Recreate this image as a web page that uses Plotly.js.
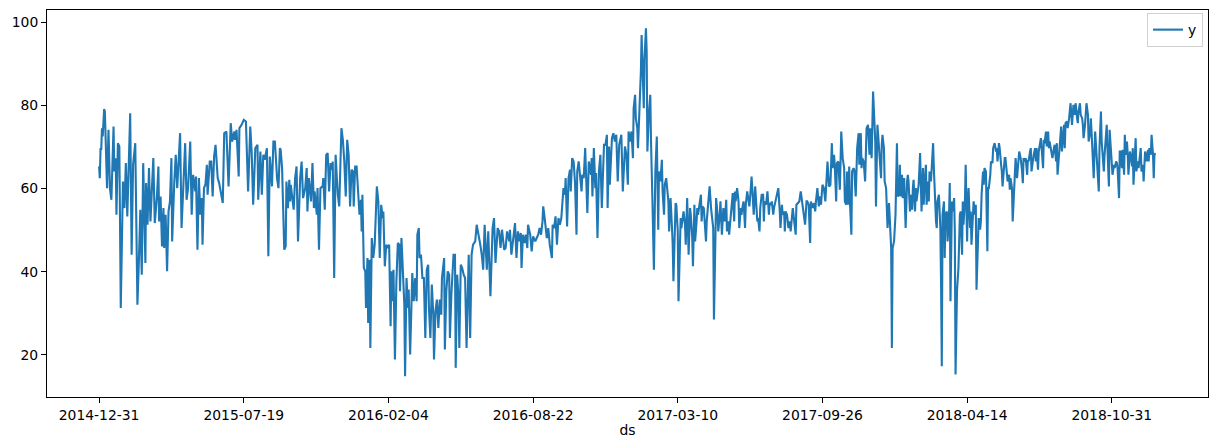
<!DOCTYPE html>
<html>
<head>
<meta charset="utf-8">
<script src="https://cdn.plot.ly/plotly-3.0.1.min.js"></script>
<style>html,body{margin:0;padding:0;background:#fff;}#chart{width:1218px;height:448px;}</style>
</head>
<body>
<div id="chart"></div>
<script>
// Series start (index 0) and day offsets from it
const startDate = '2014-12-31';
const segDays1 = [0,1,2,3,4,5,7,8,11,13,15,17,20,21,23,24,26,28,30,33,35,37,39,41,43,45,47,50,53,55,57,59,61,64,65,67,69,71,73,75,77,80,82,83,85,87,89,90,92,94,96,98,100,101,104,106,108,110,112,114,117,119,121,123,126,128,130,133,134,136,138,140,142,143,145,147,149,150,153,155,157,159,161,164,166,169,171,173,176,179,181,182,184,187,188,190,193,194,197,200,203,206,209,211,213,216,219,220,223,225,227,229,232,234,236,239,241];
const segY1 = [65.3,62.5,69.5,69.5,74.5,72.5,79.1,78.5,60.1,74.1,60.1,57.3,74.9,64.1,67.3,53.7,70.9,70.1,31.3,61.7,55.3,66.1,53.3,69.7,78.1,44.1,65.7,70.9,32.1,42.5,54.9,39.3,66.1,42.1,61.3,51.3,64.9,52.1,60.9,67.3,51.7,58.1,65.3,52.1,58.1,46.1,55.3,45.7,53.7,40.1,54.5,56.9,67.3,47.3,61.7,68.1,60.1,66.9,73.3,50.5,65.7,70.9,57.3,60.1,71.3,53.7,63.3,59.3,62.9,45.3,62.5,53.7,57.7,46.5,60.1,60.9,65.7,58.5,66.5,66.5,58.1,67.7,70.5,62.5,61.3,58.1,56.5,73.3,73.7,60.5,72.1,75.7,71.3,73.7,71.7,74.1,62.9,74.5,75.3,76.5,76.1,59.3,74.9,68.5,56.1,69.7,70.5,57.3,68.9,58.5,68.1,66.9,69.7,43.7,67.7,60.5,71.3];
const segDays2 = [243,245,246,248,250,251,253,256,258,259,261,263,264,265,267,269,271,273,275,278,280,282,285,287,288,290,293,295,297,298,301,302,304,306,309,310,312,314,316,318,320,322,323,325,327,328,330,332,334,335,337,339,341,343,345,347,349,351,352,354,356,358,360,362,363,364,366,368,369,371,372,374,375,377,379,381,383,384,386,388,390,392,393,395,397,399,401,403,404,406,407,409,411,413,415,416,418,420,422,423,425,427,428,430,432,433,435,437,439,440,442,443,445,447,449,450,451,453,455,456,458,460,462,463,465,467,469,471,473,474,477,478,480,482,484,485,487,490];
const segY2 = [71.3,65.7,62.5,60.1,69.7,69.3,64.9,45.3,46.1,61.7,55.3,62.1,56.9,60.9,58.5,54.9,62.5,65.3,47.3,62.5,66.5,57.7,60.1,64.9,54.5,62.5,56.9,66.1,55.3,59.3,53.7,60.1,45.3,60.1,60.5,62.5,54.9,68.1,68.5,59.3,66.1,64.5,66.5,38.5,68.1,64.1,58.5,55.7,70.5,74.5,71.7,66.5,58.1,71.7,68.1,55.7,64.5,64.1,55.7,65.3,65.3,59.3,53.7,57.3,49.7,58.5,40.9,40.1,31.3,43.3,27.7,42.9,21.7,48.1,43.3,46.5,53.7,60.5,56.9,43.3,56.1,52.9,54.5,41.3,46.5,45.7,46.5,26.9,40.1,32.9,40.5,18.9,37.7,46.9,46.5,35.3,48.1,40.9,32.1,14.9,38.5,31.3,35.7,20.1,30.5,39.7,32.9,38.5,32.9,48.9,50.5,43.3,44.1,38.5,38.5,30.5,24.1,40.5,41.7,31.3,24.1,36.9,29.7,18.9,30.5,33.3,26.5,33.3,29.7,38.5,43.3,21.3,35.3,40.1,39.3,24.1,34.5,44.1];
const segDays3 = [492,493,495,497,498,500,502,504,506,508,510,511,513,515,517,520,522,524,527,529,531,533,536,538,539,541,544,546,548,551,553,555,557,560,562,564,567,568,570,573,575,577,579,581,583,584,586,588,590,592,593,596,598,600,603,605,607,609,611,613,614,616,619,621,623,626,627,629,631,633,635,637,639,642,644,645,647,649,651,652,654,656,658,660,661,663,665,667,668,670,672,674,675,677,680,681,682,684,686,687,689,691,693,695,697,698,700,702,703,705,706,708,709,711,713,715,717,719,721,722,724,726,727,729,731,732,734,736,738,739];
const segY3 = [44.1,16.9,39.3,33.7,21.7,41.7,40.9,39.3,38.5,21.7,41.7,44.1,24.1,44.1,46.5,47.3,51.3,49.7,46.5,44.1,40.5,51.3,40.5,49.7,45.7,34.1,50.5,52.9,42.1,50.5,49.7,45.7,50.1,45.3,45.7,49.7,47.3,50.1,44.1,49.3,51.7,43.3,49.7,47.3,49.3,40.9,48.9,46.9,48.9,45.7,51.3,48.9,44.9,48.5,47.3,48.1,48.9,50.5,48.9,52.1,55.7,52.9,48.1,50.5,46.5,43.3,51.3,50.5,53.3,46.5,52.9,51.3,52.9,60.1,58.5,62.5,50.9,62.5,64.5,59.3,67.3,66.5,61.3,48.9,64.1,66.5,62.5,59.3,63.3,62.5,69.7,60.5,54.1,66.5,63.3,67.3,58.1,69.7,60.1,63.7,48.1,64.1,68.1,55.3,63.3,70.5,70.5,72.9,55.3,70.1,60.9,69.7,72.1,73.3,71.3,72.9,61.7,70.5,71.7,72.9,59.3,69.7,70.1,68.1,60.9,73.7,71.3,73.7,67.3,79.3];
const segDays4 = [741,742,744,745,747,749,750,751,753,754,756,757,758,760,762,763,764,765,767,768,769,771,773,774,776,778,779,781,782,784,786,787,788,790,792,793,794,796,797,798,800,801,803,804,805,807,808,810,811,813,814,815,817,818,820,821,823,824,826,827,828,830,832,833,834,836,838,839,840,842,844,846,848,849,850,852,853,855,856,858,859,861,862,863,865,867,868,870,871,873,874,876,878,879,880,882,884,885,887,888,890,891,893,894,896,897,899,901,902,903,905,907,908,910,911,913,914,916,918,919,920,922,924,926,927,929,930,932,933,935,937,939,941,942,944,945,947,948,949,951,953,955,956,958,959,961,963,964,966,968,970,971,973,974,976,978,979,981,983,984,986,988];
const segY4 = [82.5,76.9,74.5,69.7,77.7,88.1,96.9,89.7,79.3,91.3,98.5,92.9,68.9,77.7,82.5,71.3,58.5,56.9,40.5,61.7,64.1,72.5,50.1,64.1,61.7,66.9,59.3,53.7,60.9,62.5,58.5,56.9,49.7,57.7,50.5,46.5,37.7,53.7,56.5,56.1,49.7,32.9,49.7,52.9,50.5,53.7,54.5,51.3,46.5,57.7,50.5,44.1,55.3,53.7,48.1,41.3,56.1,47.3,52.1,55.3,53.7,56.1,58.5,52.1,55.7,55.3,49.7,47.3,52.1,56.9,60.5,55.3,52.1,50.5,28.5,50.5,57.7,53.7,49.7,53.7,56.9,48.9,51.3,55.3,52.1,57.3,49.7,52.1,48.9,53.7,56.1,58.9,52.1,59.3,56.9,60.1,56.9,50.5,55.3,53.7,56.1,56.9,50.5,56.1,59.3,57.7,55.7,60.1,62.9,60.1,53.7,60.5,56.9,52.1,52.9,49.7,55.3,58.5,58.5,52.1,56.9,56.1,59.3,53.7,56.5,56.1,56.9,53.7,55.3,56.9,58.1,60.1,54.5,50.5,56.1,53.7,54.5,49.7,54.5,53.7,50.5,52.1,49.7,53.7,55.3,52.1,48.9,56.1,56.5,56.9,59.3,58.1,55.3,54.5,51.3,56.9,56.9,56.1,46.9,56.9,55.3,56.5];
const segDays5 = [990,991,993,995,996,998,1000,1002,1004,1006,1007,1009,1011,1013,1014,1016,1017,1019,1020,1022,1024,1025,1026,1028,1030,1031,1033,1034,1036,1037,1038,1040,1041,1043,1044,1046,1047,1048,1050,1051,1053,1054,1055,1057,1059,1060,1061,1063,1065,1066,1068,1070,1071,1073,1074,1076,1077,1079,1081,1082,1083,1085,1086,1088,1089,1090,1092,1093,1095,1096,1097,1099,1100,1101,1103,1104,1106,1107,1108,1110,1111,1113,1114,1115,1117,1118,1119,1121,1122,1124,1125,1126,1128,1129,1130,1132,1133,1135,1136,1137,1139,1140,1141,1143,1144,1146,1147,1148,1150,1151,1153,1154,1155,1157,1158,1159,1161,1163,1164,1165,1166,1168,1169,1170,1172,1173,1175,1176,1177,1179,1180,1182,1183,1184,1186,1187,1188,1190,1191,1193,1194,1195,1197,1198,1200,1201,1202,1204,1205,1206,1208,1209,1211,1212,1213,1215,1216,1218,1219,1220,1222,1223,1224,1226,1228,1229,1230,1232,1233,1235,1236];
const segY5 = [54.5,56.9,60.1,55.7,58.1,56.1,60.9,60.1,56.9,63.3,66.5,60.5,60.9,70.9,64.9,68.1,65.7,56.9,66.1,66.5,59.7,66.1,73.7,67.3,64.9,56.9,56.1,64.1,56.1,65.3,56.9,48.9,64.1,64.9,64.5,58.1,64.9,69.7,73.3,65.7,73.3,64.9,67.3,66.5,61.7,68.1,74.5,75.3,68.1,74.5,67.3,83.3,77.7,71.3,55.7,75.3,72.9,68.1,62.5,70.5,72.9,69.7,61.7,60.1,56.1,50.5,56.5,53.7,45.7,21.7,45.7,47.3,52.1,53.7,70.9,58.1,58.5,65.7,58.1,63.3,57.7,62.5,56.1,50.5,61.7,63.3,61.7,54.5,58.5,54.9,60.1,62.1,54.5,60.1,56.9,60.9,60.9,68.5,63.3,54.5,64.9,56.1,60.1,65.7,56.1,61.7,56.9,64.1,61.7,64.1,70.9,64.9,58.5,52.1,50.5,56.9,58.5,50.5,36.9,17.3,53.7,56.9,43.3,53.7,54.5,47.3,53.7,61.3,32.9,56.9,54.5,57.7,49.7,15.3,35.3,37.7,40.9,53.7,54.5,44.1,56.9,51.3,57.3,65.7,47.3,56.9,60.1,50.5,54.5,46.5,52.1,56.9,53.7,56.1,35.7,52.1,52.9,50.1,52.1,58.5,64.1,60.9,64.9,64.1,44.9,60.1,60.1,63.3,66.5,66.1,69.7];
const segDays6 = [1238,1240,1241,1242,1244,1245,1247,1248,1249,1251,1252,1253,1255,1256,1258,1259,1260,1262,1263,1265,1266,1267,1269,1270,1272,1273,1274,1276,1277,1278,1280,1281,1283,1284,1285,1287,1288,1289,1291,1292,1294,1295,1296,1298,1299,1300,1302,1303,1305,1306,1307,1309,1310,1312,1313,1314,1316,1317,1318,1320,1321,1323,1324,1325,1327,1328,1330,1331,1332,1334,1335,1336,1338,1339,1341,1342,1343,1345,1346,1347,1349,1350,1352,1353,1354,1356,1357,1359,1360,1361,1363,1364,1365,1367,1368,1370,1371,1372,1374,1375,1377,1378,1379,1381,1382,1383,1385,1386,1388,1389,1390,1392,1393,1394,1396,1397,1399,1400,1401,1403,1404,1406,1407,1408,1410,1411,1412,1414,1415,1417,1418,1419,1421,1422,1423,1425,1426,1428,1429,1430,1432,1433,1434,1436,1437,1439,1440,1441,1443,1444,1446,1447,1448,1450,1451,1452,1454,1455,1457,1458,1459,1460];
const segY6 = [70.9,68.9,69.7,66.5,70.9,69.7,65.7,64.1,60.5,66.5,67.3,67.3,64.5,61.7,63.3,59.7,62.5,60.1,52.1,61.7,66.5,67.3,62.5,65.7,68.9,68.1,67.3,64.1,61.3,67.3,66.5,67.3,63.3,66.9,66.5,68.9,69.7,64.1,67.3,68.1,69.7,66.5,69.7,64.5,68.9,70.5,72.1,69.7,64.9,71.7,70.9,73.7,70.1,73.7,69.7,71.3,69.7,68.9,67.3,69.7,70.5,66.5,70.9,63.3,68.1,71.3,74.9,68.9,70.5,75.3,69.7,75.7,76.1,74.5,76.9,80.1,80.5,75.3,77.7,80.1,77.7,80.5,76.9,75.7,78.5,80.5,77.7,76.9,75.3,72.1,75.3,79.3,80.5,77.7,71.3,73.3,76.9,73.7,68.1,62.5,73.7,71.3,68.1,64.1,59.3,69.7,78.5,71.3,65.7,64.1,68.1,72.9,75.3,69.7,60.5,74.1,68.9,66.5,63.3,65.7,64.9,66.5,66.1,64.9,57.7,68.9,68.9,64.9,69.3,63.3,72.9,68.1,71.3,68.1,63.3,68.9,68.1,65.3,69.7,60.9,68.1,72.1,64.1,66.5,64.9,67.3,69.7,64.1,65.7,61.7,68.9,68.1,66.5,69.3,66.5,69.7,68.1,72.9,68.1,62.5,68.5,68.1];

const xTickLabels = ['2014-12-31','2015-07-19','2016-02-04','2016-08-22','2017-03-10','2017-09-26','2018-04-14','2018-10-31'];
const yTickValues = [20, 40, 60, 80, 100];
const seriesName = 'y';
const xTitle = 'ds';

function dayToDate(d) {
  const base = Date.parse(startDate + 'T00:00:00Z');
  return new Date(base + d * 86400000).toISOString().slice(0, 10);
}

const dayPairs = [[segDays1, segY1], [segDays2, segY2], [segDays3, segY3], [segDays4, segY4], [segDays5, segY5], [segDays6, segY6]];
const xs = [], ys = [];
dayPairs.forEach(([ds, vs]) => {
  const n = Math.min(ds.length, vs.length);
  for (let i = 0; i < n; i++) { xs.push(dayToDate(ds[i])); ys.push(vs[i]); }
});

const font = {family: 'DejaVu Sans, sans-serif', size: 13.9, color: '#000'};

const trace = {
  x: xs, y: ys, type: 'scatter', mode: 'lines', name: seriesName,
  line: {color: '#1f77b4', width: 2.1}
};

const axisCommon = {
  showline: true, mirror: true, linecolor: '#000', linewidth: 1,
  ticks: 'outside', ticklen: 5, tickwidth: 1, tickcolor: '#000',
  showgrid: false, zeroline: false, tickfont: font
};

const layout = {
  width: 1218, height: 448,
  margin: {l: 47, r: 10, t: 10, b: 51},
  paper_bgcolor: '#fff', plot_bgcolor: '#fff',
  font: font,
  showlegend: true,
  legend: {
    x: 0.9957, xanchor: 'right', y: 0.992, yanchor: 'top',
    bordercolor: '#d0d0d0', borderwidth: 1, bgcolor: 'rgba(255,255,255,0.8)',
    font: font, itemwidth: 30
  },
  xaxis: Object.assign({}, axisCommon, {
    type: 'date',
    range: [dayToDate(-72), dayToDate(1533)],
    tickvals: xTickLabels, ticktext: xTickLabels,
    title: {text: xTitle, font: font, standoff: 3}
  }),
  yaxis: Object.assign({}, axisCommon, {
    range: [9.9, 102.9],
    tickvals: yTickValues,
    ticktext: yTickValues.map(String)
  })
};

Plotly.newPlot('chart', [trace], layout, {displayModeBar: false, staticPlot: true});
</script>
</body>
</html>
